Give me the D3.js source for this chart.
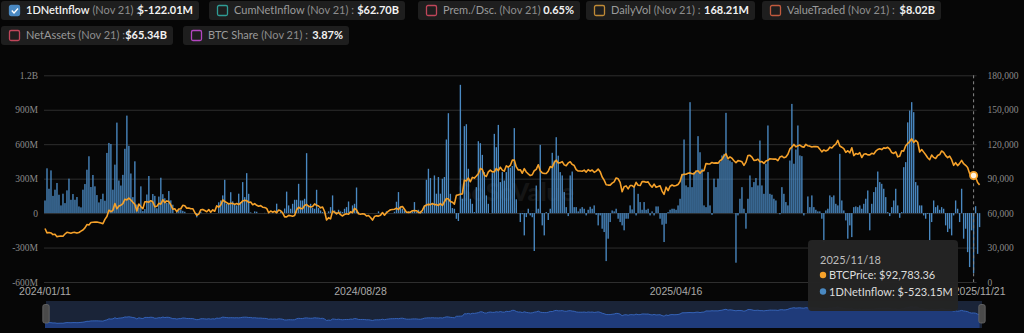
<!DOCTYPE html>
<html>
<head>
<meta charset="utf-8">
<script src="https://cdn.jsdelivr.net/npm/d3@7"></script>
<style>
  html, body { margin: 0; padding: 0; background: #060606; }
  svg { display: block; font-family: Lato, "Noto Sans", sans-serif; }
</style>
</head>
<body>
<svg id="chart" width="1024" height="333"></svg>
<script>
// ---- calendar: US trading days of the IBIT history shown ----
const firstDay = "2024-01-11";
const lastDay = "2025-11-21";
const marketHolidays = [
  "2024-01-15","2024-02-19","2024-03-29","2024-05-27","2024-06-19","2024-07-04",
  "2024-09-02","2024-11-28","2024-12-25","2025-01-01","2025-01-09","2025-01-20",
  "2025-02-17","2025-04-18","2025-05-26","2025-06-19","2025-07-04","2025-09-01"
];

// ---- daily net inflow, $M (one value per trading day, month by month) ----
const inflow2024 = [
  110,390,212,372,150,204,262,160,67,169,87,198,300,116,
  166,116,140,58,50,204,253,378,495,227,332,233,157,93,122,169,108,524,611,602,
  204,422,788,284,240,333,560,849,586,345,139,451,75,49,233,18,35,162,323,95,
  166,150,42,144,308,165,129,89,192,111,73,0,18,37,30,20,12,0,0,0,0,0,
  -37,0,13,0,0,0,0,0,0,0,0,94,110,154,290,81,89,182,102,81,67,169,
  96,270,139,348,168,6,0,15,12,0,0,0,2,0,0,0,8,0,82,
  0,14,0,40,187,67,38,81,116,116,255,110,110,125,522,67,81,46,38,203,44,23,
  9,15,0,15,52,154,23,9,29,15,9,38,52,101,15,67,81,223,9,0,0,0,
  0,0,0,0,0,0,15,0,0,0,16,0,0,0,12,99,183,52,38,23,
  10,15,17,15,96,9,29,20,9,67,290,386,305,81,328,169,314,169,299,314,641,870,168,
  44,38,-50,-69,1117,125,757,774,386,125,81,9,226,626,609,507,357,154,81,0,
  348,690,574,768,270,357,284,357,405,395,410,740,120,0,-78,-10,-194,-35,38,-20,-36
];
const inflow2025 = [
  -330,240,38,594,-107,-194,9,-60,38,525,458,661,500,357,328,183,52,-26,328,362,
  52,52,15,38,52,38,-20,29,55,38,67,-15,-107,-20,-136,-165,-418,-223,-78,
  23,15,38,-49,-78,-107,-150,-49,-49,67,32,226,-20,168,96,29,96,29,38,-20,15,
  -20,58,58,-49,-101,-252,-93,9,29,38,38,29,67,125,342,641,241,226,966,226,357,
  371,670,530,386,67,52,357,67,-15,300,226,300,444,502,516,873,467,458,444,0,-432,
  -20,125,226,38,-136,125,328,226,270,305,241,632,241,168,430,763,168,160,125,110,
  0,-10,226,168,96,67,458,951,430,554,763,502,496,-20,0,145,52,154,52,29,15,15,
  -49,-252,23,38,154,139,154,81,67,516,110,23,-64,-223,-107,-209,52,58,52,67,38,
  81,125,197,-150,81,183,226,362,270,255,212,139,9,-26,52,110,212,67,-41,9,400,
  444,790,893,966,879,270,241,67,67,-20,-49,-6,-246,-78,110,52,67,29,52,38,-107,-165,-136,
  -194,-20,110,38,-78,212,-223,-136,-340,-470,-150,-523.15,60,-355,-122.01
];

// ---- BTC price, USD ----
const price2024 = [
  46600,42800,43100,42700,41300,41600,39500,39800,40100,39900,41800,43300,42900,42500,
  43100,43200,42600,43100,44300,45300,47100,50000,49700,51800,52000,52100,52200,51800,51300,50700,54500,57000,62500,61200,
  62400,68300,63800,66100,66900,68300,72100,71500,73100,71400,69400,67600,61900,67900,65500,63800,69900,69900,69500,70800,
  69700,65500,65900,68500,67800,71600,69100,70600,70000,67100,63400,63800,61300,63500,63800,66800,66400,64300,64500,63800,63800,60600,
  58200,59100,62900,63200,62300,61200,63100,60800,62900,61600,66300,65200,67100,71400,70100,69100,67900,68500,68300,67600,68400,67500,
  68800,70600,71100,70800,69300,69600,67300,68200,66800,66000,66500,65100,64900,64100,60300,61800,60800,61600,60300,
  62700,62000,60200,56700,56700,58000,57700,57300,57900,62900,65100,64000,63900,66700,67500,65900,65400,65800,68000,66800,66200,64600,
  65300,61400,54000,56000,55000,61700,60800,59300,60600,58700,57500,58900,59400,59000,61100,60400,64100,62800,59400,59000,59400,59100,
  57500,57900,56200,53900,57000,57600,57400,58100,60500,58200,60300,61700,62900,63200,63300,64300,63100,65200,65800,63300,
  60800,60600,60800,62100,62200,62100,60600,60300,62500,66000,67000,67600,67400,68400,67400,67400,66700,68200,66600,69900,72700,72300,70200,
  69500,67800,75600,75900,76500,76700,88700,88000,90500,87300,91100,90500,92300,94300,98900,98000,93100,91900,95900,97500,
  95900,96000,98800,97000,99900,97400,96600,101200,100000,101500,106100,106200,100200,97500,97800,94700,98700,95800,94200,92700,93400
];
const price2025 = [
  96900,98100,102100,96900,95000,94600,94500,96500,100500,99800,104100,106100,103700,103900,104800,102000,101300,103700,104700,102400,
  101400,97900,96600,96600,96500,97400,95700,97800,96600,97500,95500,96600,98300,96100,91400,88700,84700,84400,84400,
  86100,87200,90600,89900,86700,78600,82900,83700,81100,84000,84000,82700,86800,84200,84000,87500,87400,86900,87200,84400,82500,
  85200,82500,83100,83800,79200,76300,82600,79600,83400,84500,83600,84000,84900,87500,93400,93700,93900,94700,95000,94300,94200,
  96500,96900,94700,96800,97000,103200,102900,102800,104100,103500,103700,103500,105600,106800,109700,111700,107300,108900,107800,105600,103900,
  105700,105400,104700,101600,104400,110200,110300,108700,105900,106000,107000,104600,104900,103300,105400,106000,107400,107100,107000,107100,
  105700,108800,109600,108200,108900,111300,115900,117500,119800,117700,118700,119300,117900,117400,119900,118600,118300,117600,118000,117900,117800,115700,
  113300,115000,114100,115000,117400,116700,118700,120100,123300,118400,117400,116200,112900,114300,112500,116900,110100,111800,111200,112600,108400,
  111200,111700,110700,110700,112100,111500,113900,115400,116100,115300,116800,116400,117300,115700,112700,112000,113300,109000,109600,114300,114000,
  118600,120600,122300,124700,121500,123300,121700,113200,115300,113100,110800,108200,106500,110600,108500,107600,110100,111000,114100,112900,110000,108300,109600,
  106500,101600,103900,101300,103300,105900,103000,101600,99700,94400,92200,92783.36,91500,86600,84600
];

// ---- axes ----
const leftTicks = [-600, -300, 0, 300, 600, 900, 1200];
const leftTickLabels = ["-600M", "-300M", "0", "300M", "600M", "900M", "1.2B"];
const rightTicks = [0, 30000, 60000, 90000, 120000, 150000, 180000];
const xTickIndex = [0, 158, 316, 468];

// ---- legend chips ----
const legendNames  = ["1DNetInflow", "CumNetInflow", "Prem./Dsc.", "DailyVol", "ValueTraded", "NetAssets", "BTC Share"];
const legendValues = [null, "$62.70B", "0.65%", "168.21M", "$8.02B", "$65.34B", "3.87%"];
const legendAsOf = "Nov 21";
const hoverIndex = 465;

// ---------------------------------------------------------------
function tradingDays(start, end, holidays) {
  const out = [], hol = new Set(holidays);
  const stop = new Date(end + "T00:00:00Z");
  for (let d = new Date(start + "T00:00:00Z"); d <= stop; d.setUTCDate(d.getUTCDate() + 1)) {
    const wd = d.getUTCDay(), iso = d.toISOString().slice(0, 10);
    if (wd === 0 || wd === 6 || hol.has(iso)) continue;
    out.push(iso.replace(/-/g, "/"));
  }
  return out;
}

const dates = tradingDays(firstDay, lastDay, marketHolidays);
const netInflow = inflow2024.concat(inflow2025);
const btcPrice = price2024.concat(price2025);
const n = Math.min(dates.length, netInflow.length, btcPrice.length);
const idx = d3.range(n);

const svg = d3.select("#chart");
const BLUE = "#4a89c2", ORANGE = "#f5a12a";
const plot = { left: 44, right: 980.6, top: 75.3, bottom: 282 };

const x = d3.scaleBand().domain(idx).range([plot.left, plot.right])
  .paddingInner(0.32).paddingOuter(0.16);
const cx = i => x(i) + x.bandwidth() / 2;
const yL = d3.scaleLinear().domain([-600, 1200]).range([plot.bottom, plot.top]);
const yR = d3.scaleLinear().domain([0, 180000]).range([plot.bottom, plot.top]);

svg.append("rect").attr("width", 1024).attr("height", 333).attr("fill", "#060606");

// gridlines + left labels
const gL = svg.append("g").attr("transform", `translate(${plot.left},0)`)
  .call(d3.axisLeft(yL).tickValues(leftTicks)
    .tickFormat((d, i) => leftTickLabels[i])
    .tickSize(-(plot.right - plot.left - 4)).tickPadding(6));
gL.select(".domain").remove();
gL.selectAll(".tick line").attr("stroke", "#2e2e2e").attr("stroke-width", 1);
gL.selectAll(".tick text").attr("fill", "#8a8a8a")
  .style("font-family", "'Liberation Serif', 'DejaVu Serif', serif").style("font-size", "9.5px");

// right labels
const gR = svg.append("g").attr("transform", `translate(${plot.right},0)`)
  .call(d3.axisRight(yR).tickValues(rightTicks).tickFormat(d3.format(",")).tickSize(0).tickPadding(7));
gR.select(".domain").remove();
gR.selectAll(".tick text").attr("fill", "#8a8a8a")
  .style("font-family", "'Liberation Serif', 'DejaVu Serif', serif").style("font-size", "9.5px");

// watermark
const wm = svg.append("g").attr("opacity", 0.06).attr("fill", "#ffffff");
wm.append("text").attr("x", 516).attr("y", 201).attr("text-anchor", "middle")
  .style("font-size", "25px").style("font-weight", "900").text("SoSoValue");
wm.append("text").attr("x", 516).attr("y", 214).attr("text-anchor", "middle")
  .style("font-size", "8px").text("sosovalue.com");

// bars
svg.append("g").selectAll("rect").data(idx).join("rect")
  .attr("x", i => x(i))
  .attr("width", x.bandwidth())
  .attr("y", i => Math.min(yL(netInflow[i]), yL(0)))
  .attr("height", i => Math.abs(yL(netInflow[i]) - yL(0)))
  .attr("fill", BLUE);

// price line
svg.append("path").datum(idx)
  .attr("fill", "none").attr("stroke", ORANGE).attr("stroke-width", 1.6)
  .attr("stroke-linejoin", "round")
  .attr("d", d3.line().x(cx).y(i => yR(btcPrice[i])));

// bottom labels
const gB = svg.append("g").attr("transform", `translate(0,${plot.bottom})`)
  .call(d3.axisBottom(x).tickValues(xTickIndex).tickFormat(i => dates[i]).tickSize(0).tickPadding(6));
gB.select(".domain").remove();
gB.selectAll(".tick text").attr("fill", "#a9a9a9").style("font-size", "10.5px");

// hover crosshair + point
svg.append("line").attr("x1", cx(hoverIndex)).attr("x2", cx(hoverIndex))
  .attr("y1", plot.top).attr("y2", plot.bottom)
  .attr("stroke", "#8a8a8a").attr("stroke-dasharray", "3,3");
svg.append("circle").attr("cx", cx(hoverIndex)).attr("cy", yR(btcPrice[hoverIndex])).attr("r", 3.6)
  .attr("fill", "#fff3e0").attr("stroke", ORANGE).attr("stroke-width", 1.8);

// data-zoom slider
const slY = d3.scaleLinear().domain([0, 180000]).range([331, 296]);
const slider = svg.append("g");
slider.append("rect").attr("x", 46).attr("y", 301).attr("width", 936).attr("height", 27).attr("fill", "#1a2438");
slider.append("path").datum(idx)
  .attr("fill", "#1f3b7a")
  .attr("d", d3.area().x(cx).y0(328).y1(i => slY(btcPrice[i])));
slider.append("path").datum(idx)
  .attr("fill", "none").attr("stroke", "#3563b8").attr("stroke-width", 1)
  .attr("d", d3.line().x(cx).y(i => slY(btcPrice[i])));
[46, 982].forEach(hx => {
  slider.append("rect").attr("x", hx - 3.2).attr("y", 304.5).attr("width", 6.4).attr("height", 18.5)
    .attr("rx", 2).attr("fill", "#4a4a4a").attr("stroke", "#6a6a6a").attr("stroke-width", 0.8);
});

// legend chips
const chipColors = [BLUE, "#2f9c95", "#c0465a", "#c08a36", "#c05a3e", "#c0465a", "#b346c0"];
const chipBoxes = [[1, 199, 1], [209, 405, 1], [418, 580, 1], [586, 755, 1], [762, 941, 1], [1, 173, 26], [183, 349, 26]];
const fmtM = v => "$" + d3.format(".2f")(v).replace("\u2212", "-") + "M";
const legend = svg.append("g");
legendNames.forEach((name, k) => {
  const [x0, x1, y0] = chipBoxes[k];
  const g = legend.append("g");
  g.append("rect").attr("x", x0).attr("y", y0).attr("width", x1 - x0).attr("height", 19)
    .attr("rx", 3).attr("fill", "#1e1e1e");
  const checked = k === 0;
  g.append("rect").attr("x", x0 + 8.5).attr("y", y0 + 4.5).attr("width", 10).attr("height", 10).attr("rx", 1.5)
    .attr("fill", checked ? chipColors[k] : "none").attr("stroke", chipColors[k]).attr("stroke-width", 1.3);
  if (checked) {
    g.append("path").attr("d", `M${x0 + 10.8},${y0 + 9.6} l2.2,2.3 l4,-4.4`)
      .attr("fill", "none").attr("stroke", "#fff").attr("stroke-width", 1.4);
  }
  const t = g.append("text").attr("x", x0 + 25).attr("y", y0 + 13.2).style("font-size", "11px");
  t.append("tspan").attr("fill", checked ? "#f0f0f0" : "#9a9a9a")
    .style("font-weight", checked ? "600" : "400").text(name);
  t.append("tspan").attr("fill", "#8c8c8c").text(` (${legendAsOf}) :`);
  const val = k === 0 ? fmtM(netInflow[n - 1]) : legendValues[k];
  g.append("text").attr("x", x1 - 6).attr("y", y0 + 13.2).attr("text-anchor", "end")
    .attr("fill", "#f2f2f2").style("font-size", "11px").style("font-weight", "700").text(val);
});

// tooltip for the hovered day
const tip = svg.append("g");
tip.append("rect").attr("x", 808).attr("y", 240).attr("width", 150).attr("height", 71)
  .attr("rx", 4).attr("fill", "#242424").attr("opacity", 0.97);
tip.append("text").attr("x", 820).attr("y", 264).attr("fill", "#bdbdbd")
  .style("font-size", "11px").text(dates[hoverIndex]);
const tipRows = [
  [ORANGE, "BTCPrice: $" + d3.format(",.2f")(btcPrice[hoverIndex])],
  [BLUE, "1DNetInflow: " + fmtM(netInflow[hoverIndex])]
];
tipRows.forEach(([c, s], r) => {
  const yy = 279 + r * 16.5;
  tip.append("circle").attr("cx", 823).attr("cy", yy - 4).attr("r", 3.2).attr("fill", c);
  tip.append("text").attr("x", 829).attr("y", yy).attr("fill", "#dcdcdc")
    .style("font-size", "11px").text(s);
});
</script>
</body>
</html>
